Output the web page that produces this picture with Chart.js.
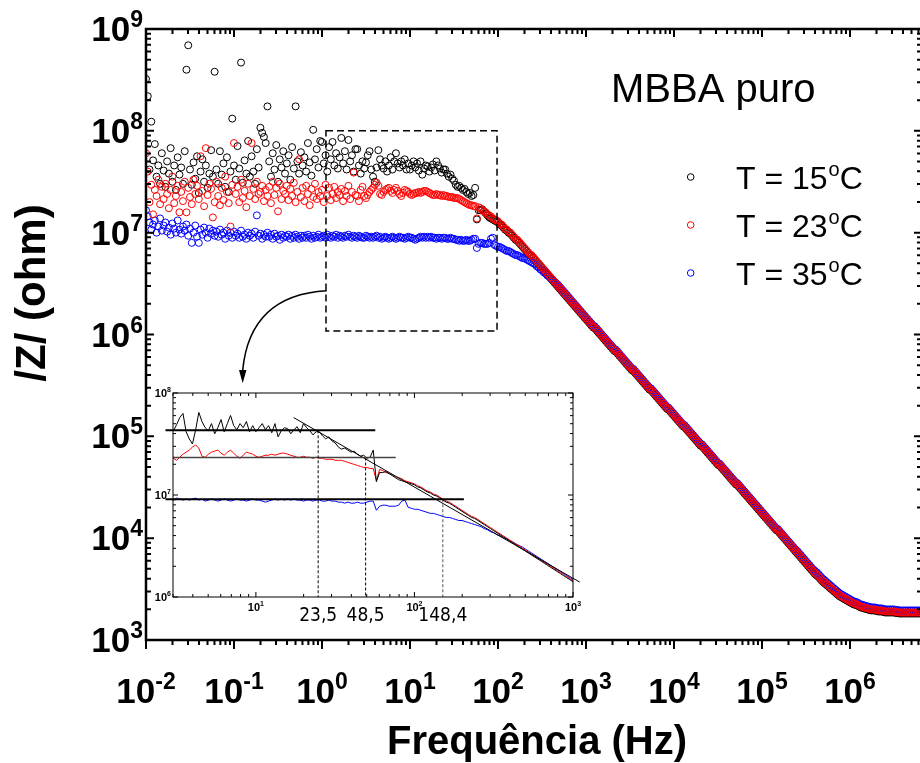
<!DOCTYPE html>
<html>
<head>
<meta charset="utf-8">
<script src="https://cdn.jsdelivr.net/npm/chart.js@4"></script>
<style>
html, body { margin: 0; padding: 0; background: #fff; overflow: hidden; width: 920px; height: 763px; }
#wrap { position: relative; width: 920px; height: 763px; overflow: hidden; }
#main { position: absolute; left: 0; top: 0; }
#inset { position: absolute; left: 120px; top: 370px; }
</style>
</head>
<body>
<div id="wrap">
<canvas id="main" width="940" height="763"></canvas>
<canvas id="inset" width="480" height="260"></canvas>
</div>
<script>
// log10 of frequency (Hz), 50 points per decade
var logFreq = [
-2,-1.98,-1.96,-1.94,-1.92,-1.9,-1.88,-1.86,-1.84,-1.82,
-1.8,-1.78,-1.76,-1.74,-1.72,-1.7,-1.68,-1.66,-1.64,-1.62,
-1.6,-1.58,-1.56,-1.54,-1.52,-1.5,-1.48,-1.46,-1.44,-1.42,
-1.4,-1.38,-1.36,-1.34,-1.32,-1.3,-1.28,-1.26,-1.24,-1.22,
-1.2,-1.18,-1.16,-1.14,-1.12,-1.1,-1.08,-1.06,-1.04,-1.02,
-1,-0.98,-0.96,-0.94,-0.92,-0.9,-0.88,-0.86,-0.84,-0.82,
-0.8,-0.78,-0.76,-0.74,-0.72,-0.7,-0.68,-0.66,-0.64,-0.62,
-0.6,-0.58,-0.56,-0.54,-0.52,-0.5,-0.48,-0.46,-0.44,-0.42,
-0.4,-0.38,-0.36,-0.34,-0.32,-0.3,-0.28,-0.26,-0.24,-0.22,
-0.2,-0.18,-0.16,-0.14,-0.12,-0.1,-0.08,-0.06,-0.04,-0.02,
0,0.02,0.04,0.06,0.08,0.1,0.12,0.14,0.16,0.18,
0.2,0.22,0.24,0.26,0.28,0.3,0.32,0.34,0.36,0.38,
0.4,0.42,0.44,0.46,0.48,0.5,0.52,0.54,0.56,0.58,
0.6,0.62,0.64,0.66,0.68,0.7,0.72,0.74,0.76,0.78,
0.8,0.82,0.84,0.86,0.88,0.9,0.92,0.94,0.96,0.98,
1,1.02,1.04,1.06,1.08,1.1,1.12,1.14,1.16,1.18,
1.2,1.22,1.24,1.26,1.28,1.3,1.32,1.34,1.36,1.38,
1.4,1.42,1.44,1.46,1.48,1.5,1.52,1.54,1.56,1.58,
1.6,1.62,1.64,1.66,1.68,1.7,1.72,1.74,1.76,1.78,
1.8,1.82,1.84,1.86,1.88,1.9,1.92,1.94,1.96,1.98,
2,2.02,2.04,2.06,2.08,2.1,2.12,2.14,2.16,2.18,
2.2,2.22,2.24,2.26,2.28,2.3,2.32,2.34,2.36,2.38,
2.4,2.42,2.44,2.46,2.48,2.5,2.52,2.54,2.56,2.58,
2.6,2.62,2.64,2.66,2.68,2.7,2.72,2.74,2.76,2.78,
2.8,2.82,2.84,2.86,2.88,2.9,2.92,2.94,2.96,2.98,
3,3.02,3.04,3.06,3.08,3.1,3.12,3.14,3.16,3.18,
3.2,3.22,3.24,3.26,3.28,3.3,3.32,3.34,3.36,3.38,
3.4,3.42,3.44,3.46,3.48,3.5,3.52,3.54,3.56,3.58,
3.6,3.62,3.64,3.66,3.68,3.7,3.72,3.74,3.76,3.78,
3.8,3.82,3.84,3.86,3.88,3.9,3.92,3.94,3.96,3.98,
4,4.02,4.04,4.06,4.08,4.1,4.12,4.14,4.16,4.18,
4.2,4.22,4.24,4.26,4.28,4.3,4.32,4.34,4.36,4.38,
4.4,4.42,4.44,4.46,4.48,4.5,4.52,4.54,4.56,4.58,
4.6,4.62,4.64,4.66,4.68,4.7,4.72,4.74,4.76,4.78,
4.8,4.82,4.84,4.86,4.88,4.9,4.92,4.94,4.96,4.98,
5,5.02,5.04,5.06,5.08,5.1,5.12,5.14,5.16,5.18,
5.2,5.22,5.24,5.26,5.28,5.3,5.32,5.34,5.36,5.38,
5.4,5.42,5.44,5.46,5.48,5.5,5.52,5.54,5.56,5.58,
5.6,5.62,5.64,5.66,5.68,5.7,5.72,5.74,5.76,5.78,
5.8,5.82,5.84,5.86,5.88,5.9,5.92,5.94,5.96,5.98,
6,6.02,6.04,6.06,6.08,6.1,6.12,6.14,6.16,6.18,
6.2,6.22,6.24,6.26,6.28,6.3,6.32,6.34,6.36,6.38,
6.4,6.42,6.44,6.46,6.48,6.5,6.52,6.54,6.56,6.58,
6.6,6.62,6.64,6.66,6.68,6.7,6.72,6.74,6.76,6.78,
6.8,6.82,6.84];

// log10 |Z| (ohm), T = 15 C
var logZ15 = [
8.51,8.34,7.62,8.09,7.71,7.87,7.55,7.66,7.48,7.78,
7.61,7.45,7.70,7.58,7.83,7.50,7.66,7.42,7.74,7.57,
7.64,7.48,7.80,8.60,8.84,7.62,7.47,7.69,7.53,7.75,
7.39,7.60,7.72,7.50,7.66,7.44,7.58,7.81,7.55,8.58,
7.62,7.48,7.80,7.57,7.68,7.45,7.74,7.40,7.60,8.12,
7.66,7.52,7.85,7.63,8.67,7.49,7.71,7.58,7.90,7.55,
7.75,7.60,7.48,7.82,7.64,8.03,7.98,7.94,7.88,8.24,
7.70,7.55,7.78,7.62,7.86,7.50,7.72,7.64,7.80,7.58,
7.68,7.76,7.52,7.84,7.63,8.24,7.70,7.58,7.79,7.66,
7.74,7.60,7.88,7.69,7.56,8.01,7.72,7.82,7.64,7.90,
7.89,7.68,7.76,7.60,7.84,7.72,7.89,7.66,7.78,7.63,
7.74,7.93,7.68,7.80,7.62,7.91,7.70,7.76,7.60,7.82,
7.82,7.66,7.58,7.70,7.63,7.69,7.76,7.80,7.62,7.55,
7.50,7.64,7.81,7.72,7.66,7.63,7.70,7.60,7.66,7.74,
7.62,7.70,7.78,7.68,7.64,7.70,7.66,7.72,7.62,7.68,
7.62,7.66,7.70,7.64,7.68,7.61,7.70,7.57,7.63,7.66,
7.65,7.60,7.64,7.67,7.61,7.70,7.66,7.63,7.59,7.62,
7.62,7.58,7.55,7.57,7.53,7.51,7.47,7.45,7.46,7.44,
7.42,7.43,7.40,7.38,7.39,7.36,7.37,7.44,7.13,7.22,
7.22,7.23,7.21,7.19,7.17,7.15,7.14,7.13,7.12,7.11,
7.10,7.08,7.07,7.05,7.03,7.02,7.00,6.99,6.97,6.95,
6.93,6.92,6.90,6.88,6.86,6.84,6.82,6.80,6.78,6.77,
6.75,6.73,6.71,6.69,6.67,6.65,6.63,6.61,6.59,6.57,
6.55,6.53,6.51,6.49,6.47,6.45,6.43,6.41,6.39,6.37,
6.35,6.33,6.31,6.29,6.27,6.25,6.23,6.21,6.19,6.17,
6.15,6.13,6.11,6.09,6.07,6.06,6.04,6.02,6.00,5.98,
5.96,5.94,5.92,5.90,5.88,5.86,5.84,5.83,5.81,5.79,
5.77,5.75,5.73,5.71,5.69,5.67,5.65,5.64,5.62,5.60,
5.58,5.56,5.54,5.52,5.50,5.48,5.46,5.45,5.43,5.41,
5.39,5.37,5.35,5.33,5.31,5.29,5.27,5.26,5.24,5.22,
5.20,5.18,5.16,5.14,5.12,5.10,5.09,5.07,5.05,5.03,
5.01,4.99,4.97,4.95,4.93,4.91,4.90,4.88,4.86,4.84,
4.82,4.80,4.78,4.76,4.74,4.72,4.71,4.69,4.67,4.65,
4.63,4.61,4.59,4.57,4.55,4.53,4.52,4.50,4.48,4.46,
4.44,4.42,4.40,4.38,4.36,4.34,4.32,4.30,4.28,4.26,
4.24,4.22,4.20,4.18,4.16,4.14,4.12,4.10,4.08,4.07,
4.05,4.03,4.01,3.99,3.97,3.95,3.93,3.91,3.89,3.87,
3.85,3.83,3.81,3.79,3.77,3.75,3.73,3.71,3.69,3.67,
3.65,3.635,3.62,3.60,3.58,3.565,3.55,3.535,3.52,3.505,
3.49,3.475,3.46,3.445,3.43,3.42,3.41,3.40,3.39,3.38,
3.37,3.36,3.35,3.345,3.34,3.33,3.32,3.315,3.31,3.305,
3.30,3.295,3.29,3.29,3.29,3.285,3.28,3.28,3.28,3.275,
3.27,3.27,3.27,3.27,3.27,3.27,3.265,3.265,3.26,3.26,
3.26,3.26,3.26,3.26,3.26,3.26,3.26,3.26,3.26,3.26,
3.26,3.26,3.26];

// log10 |Z| (ohm), T = 23 C
var logZ23 = [
7.78,7.60,7.30,7.47,7.18,7.42,7.36,7.52,7.28,7.45,
7.33,7.48,7.38,7.24,7.42,7.55,7.29,7.36,7.46,7.20,
7.40,7.31,7.50,7.20,7.44,7.35,7.28,7.52,7.38,7.46,
7.33,7.75,7.41,7.26,7.83,7.37,7.48,7.43,7.15,7.30,
7.50,7.36,7.27,7.44,7.32,7.55,7.40,7.29,7.06,7.47,
7.88,7.38,7.45,7.30,7.52,7.34,7.41,7.25,7.48,7.36,
7.88,7.43,7.33,7.50,7.38,7.40,7.46,7.31,7.42,7.36,
7.45,7.29,7.50,7.37,7.44,7.21,7.48,7.33,7.41,7.38,
7.46,7.32,7.43,7.36,7.49,7.30,7.40,7.72,7.35,7.44,
7.31,7.46,7.38,7.27,7.43,7.35,7.48,7.33,7.40,7.36,
7.42,7.30,7.47,7.36,7.44,7.32,7.38,7.45,7.34,7.40,
7.37,7.43,7.31,7.41,7.36,7.46,7.33,7.40,7.59,7.37,
7.36,7.31,7.42,7.45,7.36,7.34,7.37,7.40,7.42,7.44,
7.47,7.49,7.46,7.38,7.37,7.40,7.42,7.43,7.44,7.41,
7.39,7.42,7.44,7.41,7.38,7.36,7.39,7.42,7.41,7.40,
7.38,7.37,7.38,7.39,7.39,7.40,7.39,7.40,7.41,7.41,
7.40,7.39,7.38,7.37,7.37,7.38,7.37,7.37,7.36,7.37,
7.36,7.36,7.35,7.35,7.35,7.34,7.34,7.34,7.33,7.32,
7.31,7.30,7.29,7.28,7.27,7.27,7.26,7.26,7.14,7.25,
7.24,7.22,7.21,7.20,7.18,7.17,7.16,7.14,7.13,7.12,
7.11,7.09,7.08,7.06,7.04,7.03,7.01,7.00,6.98,6.96,
6.94,6.93,6.91,6.89,6.87,6.85,6.83,6.81,6.79,6.78,
6.76,6.74,6.72,6.70,6.68,6.66,6.64,6.62,6.60,6.58,
6.56,6.54,6.52,6.50,6.48,6.46,6.44,6.42,6.40,6.38,
6.36,6.34,6.32,6.30,6.28,6.26,6.24,6.22,6.20,6.18,
6.16,6.14,6.12,6.10,6.08,6.07,6.05,6.03,6.01,5.99,
5.97,5.95,5.93,5.91,5.89,5.87,5.85,5.84,5.82,5.80,
5.78,5.76,5.74,5.72,5.70,5.68,5.66,5.65,5.63,5.61,
5.59,5.57,5.55,5.53,5.51,5.49,5.47,5.46,5.44,5.42,
5.40,5.38,5.36,5.34,5.32,5.30,5.28,5.27,5.25,5.23,
5.21,5.19,5.17,5.15,5.13,5.11,5.10,5.08,5.06,5.04,
5.02,5.00,4.98,4.96,4.94,4.92,4.91,4.89,4.87,4.85,
4.83,4.81,4.79,4.77,4.75,4.73,4.72,4.70,4.68,4.66,
4.64,4.62,4.60,4.58,4.56,4.54,4.53,4.51,4.49,4.47,
4.45,4.43,4.41,4.39,4.37,4.35,4.33,4.31,4.29,4.27,
4.25,4.23,4.21,4.19,4.17,4.15,4.13,4.11,4.09,4.08,
4.06,4.04,4.02,4.00,3.98,3.96,3.94,3.92,3.90,3.88,
3.86,3.84,3.82,3.80,3.78,3.76,3.74,3.72,3.70,3.68,
3.66,3.645,3.63,3.61,3.59,3.575,3.56,3.545,3.53,3.515,
3.50,3.485,3.47,3.455,3.44,3.43,3.42,3.41,3.40,3.39,
3.38,3.37,3.36,3.355,3.35,3.34,3.33,3.325,3.32,3.315,
3.31,3.305,3.30,3.30,3.30,3.295,3.29,3.29,3.29,3.285,
3.28,3.28,3.28,3.28,3.28,3.28,3.275,3.275,3.27,3.27,
3.27,3.27,3.27,3.27,3.27,3.27,3.27,3.27,3.27,3.27,
3.27,3.27,3.27];

// log10 |Z| (ohm), T = 35 C
var logZ35 = [
7.22,7.16,7.10,7.03,7.08,7.12,7.00,7.06,7.14,7.02,
7.07,7.10,7.01,7.05,6.98,7.09,7.04,7.00,7.12,7.03,
6.99,7.06,7.02,7.08,6.97,7.04,6.90,7.00,7.07,6.96,
6.90,7.03,6.98,7.05,7.00,6.95,7.04,6.99,7.02,6.97,
7.01,6.96,7.03,6.98,7.00,6.94,7.02,6.97,7.00,6.95,
7.01,6.97,6.99,6.95,7.02,6.96,6.98,6.94,7.00,6.97,
6.99,6.95,7.01,7.17,6.97,6.99,6.94,6.98,6.96,7.00,
6.96,6.98,6.94,6.99,6.96,6.97,6.93,6.98,6.95,6.97,
6.96,6.98,6.94,6.97,6.95,6.98,6.96,6.94,6.97,6.95,
6.97,6.95,6.98,6.96,6.94,6.97,6.95,6.96,6.98,6.95,
6.96,6.97,6.95,6.98,6.96,6.95,6.97,6.96,6.98,6.95,
6.97,6.96,6.95,6.97,6.96,6.98,6.96,6.95,6.97,6.96,
6.95,6.97,6.96,6.95,6.95,6.97,6.96,6.95,6.96,6.95,
6.96,6.97,6.95,6.96,6.94,6.95,6.96,6.95,6.94,6.95,
6.96,6.95,6.94,6.95,6.96,6.95,6.95,6.94,6.95,6.96,
6.95,6.95,6.94,6.93,6.94,6.95,6.96,6.95,6.96,6.95,
6.96,6.95,6.96,6.95,6.95,6.94,6.95,6.95,6.94,6.95,
6.95,6.94,6.94,6.95,6.94,6.94,6.93,6.93,6.92,6.93,
6.92,6.92,6.93,6.92,6.92,6.93,6.94,6.94,6.85,6.89,
6.90,6.90,6.89,6.89,6.89,6.90,6.94,6.95,6.88,6.87,
6.86,6.86,6.85,6.84,6.83,6.82,6.82,6.81,6.80,6.79,
6.78,6.78,6.77,6.76,6.75,6.75,6.74,6.73,6.72,6.71,
6.70,6.69,6.67,6.66,6.64,6.63,6.61,6.60,6.58,6.57,
6.55,6.54,6.52,6.505,6.49,6.47,6.45,6.43,6.41,6.39,
6.37,6.35,6.33,6.31,6.29,6.27,6.25,6.23,6.21,6.19,
6.17,6.15,6.13,6.11,6.09,6.08,6.06,6.04,6.02,6.00,
5.98,5.96,5.94,5.92,5.90,5.88,5.86,5.85,5.83,5.81,
5.79,5.77,5.75,5.73,5.71,5.69,5.67,5.66,5.64,5.62,
5.60,5.58,5.56,5.54,5.52,5.50,5.48,5.47,5.45,5.43,
5.41,5.39,5.37,5.35,5.33,5.31,5.29,5.28,5.26,5.24,
5.22,5.20,5.18,5.16,5.14,5.12,5.11,5.09,5.07,5.05,
5.03,5.01,4.99,4.97,4.95,4.93,4.92,4.90,4.88,4.86,
4.84,4.82,4.80,4.78,4.76,4.74,4.73,4.71,4.69,4.67,
4.65,4.63,4.61,4.59,4.57,4.55,4.54,4.52,4.50,4.48,
4.46,4.44,4.42,4.40,4.38,4.36,4.34,4.32,4.30,4.28,
4.26,4.24,4.22,4.20,4.18,4.16,4.14,4.12,4.10,4.09,
4.07,4.05,4.03,4.01,3.99,3.97,3.95,3.93,3.91,3.89,
3.875,3.855,3.835,3.815,3.795,3.775,3.755,3.735,3.715,3.695,
3.68,3.665,3.65,3.63,3.61,3.595,3.58,3.565,3.55,3.535,
3.52,3.505,3.49,3.475,3.46,3.45,3.44,3.43,3.42,3.41,
3.40,3.39,3.38,3.375,3.37,3.36,3.35,3.345,3.34,3.335,
3.33,3.325,3.32,3.32,3.32,3.315,3.31,3.31,3.31,3.305,
3.30,3.30,3.30,3.30,3.30,3.30,3.295,3.295,3.29,3.29,
3.29,3.29,3.29,3.29,3.29,3.29,3.29,3.29,3.29,3.29,
3.29,3.29,3.29];

var seriesTemps = ["15", "23", "35"];
var seriesColors = ["#000000", "#ff0000", "#0000ff"];

// axis decades
var xMajorExp = [-2, -1, 0, 1, 2, 3, 4, 5, 6];
var yMajorExp = [3, 4, 5, 6, 7, 8, 9];
var insetXMajorExp = [0, 1, 2, 3];
var insetYMajorExp = [6, 7, 8];
var minorMult = [2, 3, 4, 5, 6, 7, 8, 9];

// inset fit lines (Hz, ohm)
var fitLevel = [4.31e7, 2.33e7, 9.08e6];
var fitFrom = [2.69, 3.0, 2.69];
var fitTo = [56.6, 76.2, 205];
var fitColor = ["#000", "#444", "#000"];
var slopeFitF = [17.3, 1102];
var slopeFitZ = [5.74e7, 1.40e6];
var crossF = [24.7, 49.2, 151];
var crossLabels = ["23,5", "48,5", "148,4"];

// zoom box and arrow on the main plot (Hz, ohm)
var zoomBoxF = [1.11, 97.5];
var zoomBoxZ = [1.08e6, 1e8];
var arrowF = [1.131, 0.152, 0.1256, 0.1256];
var arrowZ = [2.687e6, 2.44e6, 4.47e5, 3.33e5];

var FONT = '"Liberation Sans", Arial, Helvetica, sans-serif';
var NARROW = '"Liberation Sans Narrow", "Arial Narrow", "DejaVu Sans Condensed", sans-serif';

function toPoints(zs) {
    return logFreq.map(function(lf, i) {
        return {x: Math.pow(10, lf), y: Math.pow(10, zs[i])};
    });
}
var seriesData = [toPoints(logZ15), toPoints(logZ23), toPoints(logZ35)];

function tickList(exps) {
    var out = [];
    exps.forEach(function(e) {
        out.push({v: Math.pow(10, e), major: true});
        minorMult.forEach(function(m) { out.push({v: m * Math.pow(10, e), major: false}); });
    });
    return out;
}

function powLabel(ctx, x, y, exp, big, small, rise, align) {
    ctx.font = "bold " + big + "px " + FONT;
    var w1 = ctx.measureText("10").width;
    ctx.font = "bold " + small + "px " + FONT;
    var w2 = ctx.measureText(exp).width;
    var x0 = align == "right" ? x - w1 - w2 : x - (w1 + w2) / 2;
    ctx.textAlign = "left";
    ctx.textBaseline = "alphabetic";
    ctx.font = "bold " + big + "px " + FONT;
    ctx.fillText("10", x0, y);
    ctx.font = "bold " + small + "px " + FONT;
    ctx.fillText(exp, x0 + w1, y - rise);
}

// draws frame and ticks on all four sides
function drawFrame(ctx, a, xs, ys, xt, yt, opt) {
    ctx.strokeStyle = "#000";
    ctx.lineWidth = opt.frame;
    ctx.setLineDash([]);
    ctx.strokeRect(a.left, a.top, a.right - a.left, a.bottom - a.top);
    ctx.lineWidth = opt.tick;
    ctx.beginPath();
    xt.forEach(function(t) {
        var px = xs.getPixelForValue(t.v);
        if (px < a.left - 0.5 || px > a.right + 0.5) return;
        var lb = t.major ? opt.bottomMajor : opt.bottomMinor;
        var lt = t.major ? opt.inMajor : opt.inMinor;
        ctx.moveTo(px, a.bottom);
        ctx.lineTo(px, a.bottom + lb);
        ctx.moveTo(px, a.top);
        ctx.lineTo(px, a.top + lt);
    });
    yt.forEach(function(t) {
        var py = ys.getPixelForValue(t.v);
        if (py < a.top - 0.5 || py > a.bottom + 0.5) return;
        var l = t.major ? opt.inMajor : opt.inMinor;
        ctx.moveTo(a.left, py);
        ctx.lineTo(a.left + l, py);
        ctx.moveTo(a.right, py);
        ctx.lineTo(a.right - l, py);
    });
    ctx.stroke();
}

var mainDeco = {
    id: "mainDeco",
    afterDraw: function(chart) {
        var ctx = chart.ctx, a = chart.chartArea;
        var xs = chart.scales.x, ys = chart.scales.y;
        ctx.save();
        ctx.fillStyle = "#000";
        ctx.strokeStyle = "#000";

        // dashed zoom box
        ctx.lineWidth = 1.5;
        ctx.setLineDash([7, 4]);
        var bx0 = xs.getPixelForValue(zoomBoxF[0]), bx1 = xs.getPixelForValue(zoomBoxF[1]);
        var by0 = ys.getPixelForValue(zoomBoxZ[1]), by1 = ys.getPixelForValue(zoomBoxZ[0]);
        ctx.strokeRect(bx0, by0, bx1 - bx0, by1 - by0);
        ctx.setLineDash([]);

        // curved arrow
        var p = arrowF.map(function(f, i) {
            return [xs.getPixelForValue(f), ys.getPixelForValue(arrowZ[i])];
        });
        ctx.lineWidth = 1.5;
        ctx.beginPath();
        ctx.moveTo(p[0][0], p[0][1]);
        ctx.quadraticCurveTo(p[1][0], p[1][1], p[2][0], p[2][1]);
        ctx.stroke();
        ctx.beginPath();
        ctx.moveTo(p[3][0], p[3][1]);
        ctx.lineTo(p[3][0] - 3.7, p[2][1]);
        ctx.lineTo(p[3][0] + 3.7, p[2][1]);
        ctx.closePath();
        ctx.fill();

        drawFrame(ctx, a, xs, ys, tickList(xMajorExp), tickList(yMajorExp.slice(0, -1)).concat([{v: 1e9, major: true}]), {
            frame: 2.5, tick: 2, bottomMajor: 9, bottomMinor: 5, inMajor: 8, inMinor: 5
        });

        // tick labels
        xMajorExp.forEach(function(e) {
            powLabel(ctx, xs.getPixelForValue(Math.pow(10, e)), 703, String(e), 35, 23, 14, "center");
        });
        yMajorExp.forEach(function(e) {
            powLabel(ctx, a.left - 3, ys.getPixelForValue(Math.pow(10, e)) + 12, String(e), 35, 23, 14, "right");
        });

        // axis titles
        ctx.textAlign = "center";
        ctx.textBaseline = "alphabetic";
        ctx.font = "bold 40px " + FONT;
        ctx.fillText("Frequência (Hz)", 537, 754);
        ctx.save();
        ctx.translate(45, 293);
        ctx.rotate(-Math.PI / 2);
        ctx.font = "bold 42px " + FONT;
        ctx.fillText("/Z/ (ohm)", 0, 0);
        ctx.restore();

        // label and legend
        ctx.textAlign = "left";
        ctx.font = "40px " + FONT;
        ctx.fillText("MBBA puro", 611, 102);
        var legY = [177, 225, 273];
        seriesTemps.forEach(function(t, i) {
            var cy = legY[i];
            ctx.strokeStyle = seriesColors[i];
            ctx.lineWidth = 1;
            ctx.beginPath();
            ctx.arc(690.7, cy, 3.3, 0, Math.PI * 2);
            ctx.stroke();
            ctx.fillStyle = "#000";
            ctx.font = "32px " + FONT;
            var s = "T = " + t;
            ctx.fillText(s, 736, cy + 11.5);
            var w = ctx.measureText(s).width;
            ctx.font = "20px " + FONT;
            ctx.fillText("o", 736 + w + 1, cy - 1);
            var w2 = ctx.measureText("o").width;
            ctx.font = "32px " + FONT;
            ctx.fillText("C", 736 + w + 1 + w2, cy + 11.5);
        });
        ctx.restore();
    }
};

var insetDeco = {
    id: "insetDeco",
    afterDraw: function(chart) {
        var ctx = chart.ctx, a = chart.chartArea;
        var xs = chart.scales.x, ys = chart.scales.y;
        ctx.save();
        ctx.fillStyle = "#000";
        drawFrame(ctx, a, xs, ys, tickList(insetXMajorExp), tickList(insetYMajorExp), {
            frame: 1, tick: 1, bottomMajor: -5, bottomMinor: -3, inMajor: 5, inMinor: 3
        });
        insetXMajorExp.slice(1).forEach(function(e) {
            powLabel(ctx, xs.getPixelForValue(Math.pow(10, e)), a.bottom + 14, String(e), 11, 7, 5, "center");
        });
        insetYMajorExp.forEach(function(e) {
            powLabel(ctx, a.left - 2, ys.getPixelForValue(Math.pow(10, e)) + 4, String(e), 11, 7, 5, "right");
        });
        ctx.font = "19px " + NARROW;
        ctx.textAlign = "center";
        crossLabels.forEach(function(s, i) {
            ctx.fillText(s, xs.getPixelForValue(crossF[i]), a.bottom + 24);
        });
        ctx.restore();
    }
};

var mainDatasets = seriesTemps.map(function(t, i) {
    return {
        label: "T = " + t + "°C",
        data: seriesData[i],
        borderColor: seriesColors[i],
        backgroundColor: "rgba(0,0,0,0)",
        pointBackgroundColor: "rgba(0,0,0,0)",
        pointBorderColor: seriesColors[i],
        pointRadius: 3.5,
        pointBorderWidth: 1,
        order: [3, 1, 2][i]
    };
});

new Chart(document.getElementById("main"), {
    type: "scatter",
    data: {datasets: mainDatasets},
    options: {
        responsive: false,
        animation: false,
        devicePixelRatio: 1,
        events: [],
        layout: {padding: {left: 146, right: 18, top: 29, bottom: 123}},
        plugins: {legend: {display: false}, tooltip: {enabled: false}},
        scales: {
            x: {type: "logarithmic", min: 0.01, max: 6.58e6, display: false},
            y: {type: "logarithmic", min: 1e3, max: 1e9, display: false}
        }
    },
    plugins: [mainDeco]
});

// inset: same data drawn as lines, plus the fit lines
var insetDatasets = [];
fitLevel.forEach(function(z, i) {
    insetDatasets.push({
        data: [{x: fitFrom[i], y: z}, {x: fitTo[i], y: z}],
        borderColor: fitColor[i], borderWidth: i == 1 ? 1.5 : 2, pointRadius: 0, clip: false, order: 0
    });
    insetDatasets.push({
        data: [{x: crossF[i], y: z}, {x: crossF[i], y: 1e6}],
        borderColor: i == 2 ? "#555" : "#000", borderWidth: 1, borderDash: [3, 2], pointRadius: 0, order: 0
    });
});
insetDatasets.push({
    data: [{x: slopeFitF[0], y: slopeFitZ[0]}, {x: slopeFitF[1], y: slopeFitZ[1]}],
    borderColor: "#000", borderWidth: 1, pointRadius: 0, clip: false, order: 0
});
[0, 1, 2].forEach(function(i) {
    insetDatasets.push({
        data: seriesData[i],
        borderColor: seriesColors[i],
        borderWidth: 1,
        pointRadius: 0,
        order: [1, 2, 3][i]
    });
});

new Chart(document.getElementById("inset"), {
    type: "line",
    data: {datasets: insetDatasets},
    options: {
        responsive: false,
        animation: false,
        devicePixelRatio: 1,
        events: [],
        layout: {padding: {left: 53, right: 27, top: 23, bottom: 33}},
        plugins: {legend: {display: false}, tooltip: {enabled: false}},
        elements: {line: {tension: 0}},
        scales: {
            x: {type: "logarithmic", min: 3, max: 1000, display: false},
            y: {type: "logarithmic", min: 1e6, max: 1e8, display: false}
        }
    },
    plugins: [insetDeco]
});
</script>
</body>
</html>
